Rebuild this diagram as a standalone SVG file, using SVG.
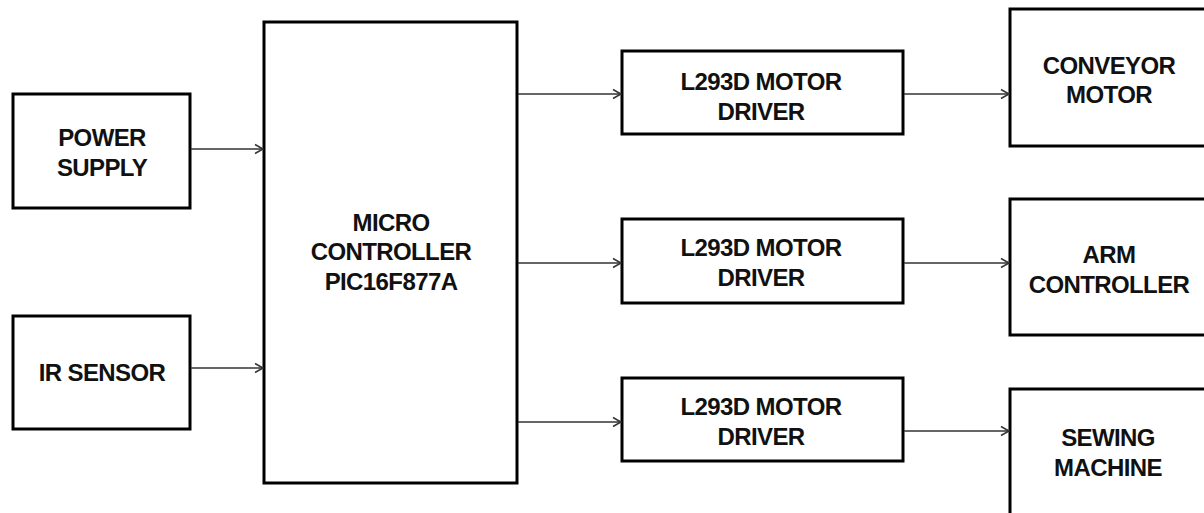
<svg xmlns="http://www.w3.org/2000/svg" width="1204" height="513" viewBox="0 0 1204 513">
<style>
.box{fill:#fff;stroke:#000;stroke-width:3}
.lbl{font-family:"Liberation Sans",Arial,sans-serif;font-weight:bold;font-size:24px;text-anchor:middle;fill:#111;letter-spacing:-0.6px}
.conn{fill:none;stroke:#333;stroke-width:1.6}
</style>
<defs>
<marker id="arr" markerWidth="12" markerHeight="12" refX="10" refY="6" orient="auto" markerUnits="userSpaceOnUse">
<path d="M2,1.5 L10,6 L2,10.5" fill="none" stroke="#333" stroke-width="1.5"/>
</marker>
</defs>
<rect width="1204" height="513" fill="#fff"/>
<g id="power-supply">
<rect class="box" x="13" y="94" width="177" height="114"/>
<text class="lbl" x="102" y="146">POWER</text>
<text class="lbl" x="102" y="176">SUPPLY</text>
</g>
<g id="ir-sensor">
<rect class="box" x="13" y="316" width="177" height="113"/>
<text class="lbl" x="102" y="381">IR SENSOR</text>
</g>
<g id="microcontroller">
<rect class="box" x="264" y="22" width="253" height="461"/>
<text class="lbl" x="391" y="231">MICRO</text>
<text class="lbl" x="391" y="260">CONTROLLER</text>
<text class="lbl" x="391" y="290">PIC16F877A</text>
</g>
<g id="driver1">
<rect class="box" x="622" y="51" width="281" height="83"/>
<text class="lbl" x="761" y="90">L293D MOTOR</text>
<text class="lbl" x="761" y="120">DRIVER</text>
</g>
<g id="driver2">
<rect class="box" x="622" y="219" width="281" height="84"/>
<text class="lbl" x="761" y="256">L293D MOTOR</text>
<text class="lbl" x="761" y="286">DRIVER</text>
</g>
<g id="driver3">
<rect class="box" x="622" y="378" width="281" height="83"/>
<text class="lbl" x="761" y="415">L293D MOTOR</text>
<text class="lbl" x="761" y="445">DRIVER</text>
</g>
<g id="conveyor-motor">
<rect class="box" x="1010" y="9" width="210" height="137"/>
<text class="lbl" x="1109" y="74">CONVEYOR</text>
<text class="lbl" x="1109" y="103">MOTOR</text>
</g>
<g id="arm-controller">
<rect class="box" x="1010" y="199" width="210" height="136"/>
<text class="lbl" x="1109" y="263">ARM</text>
<text class="lbl" x="1109" y="293">CONTROLLER</text>
</g>
<g id="sewing-machine">
<rect class="box" x="1010" y="389" width="210" height="140"/>
<text class="lbl" x="1108" y="446">SEWING</text>
<text class="lbl" x="1108" y="476">MACHINE</text>
</g>
<g id="connectors">
<line class="conn" x1="191" y1="149" x2="263" y2="149" marker-end="url(#arr)"/>
<line class="conn" x1="191" y1="368" x2="263" y2="368" marker-end="url(#arr)"/>
<line class="conn" x1="518" y1="94" x2="621" y2="94" marker-end="url(#arr)"/>
<line class="conn" x1="518" y1="263" x2="621" y2="263" marker-end="url(#arr)"/>
<line class="conn" x1="518" y1="422" x2="621" y2="422" marker-end="url(#arr)"/>
<line class="conn" x1="904" y1="94" x2="1009" y2="94" marker-end="url(#arr)"/>
<line class="conn" x1="904" y1="263" x2="1009" y2="263" marker-end="url(#arr)"/>
<line class="conn" x1="904" y1="431" x2="1009" y2="431" marker-end="url(#arr)"/>
</g>
</svg>
